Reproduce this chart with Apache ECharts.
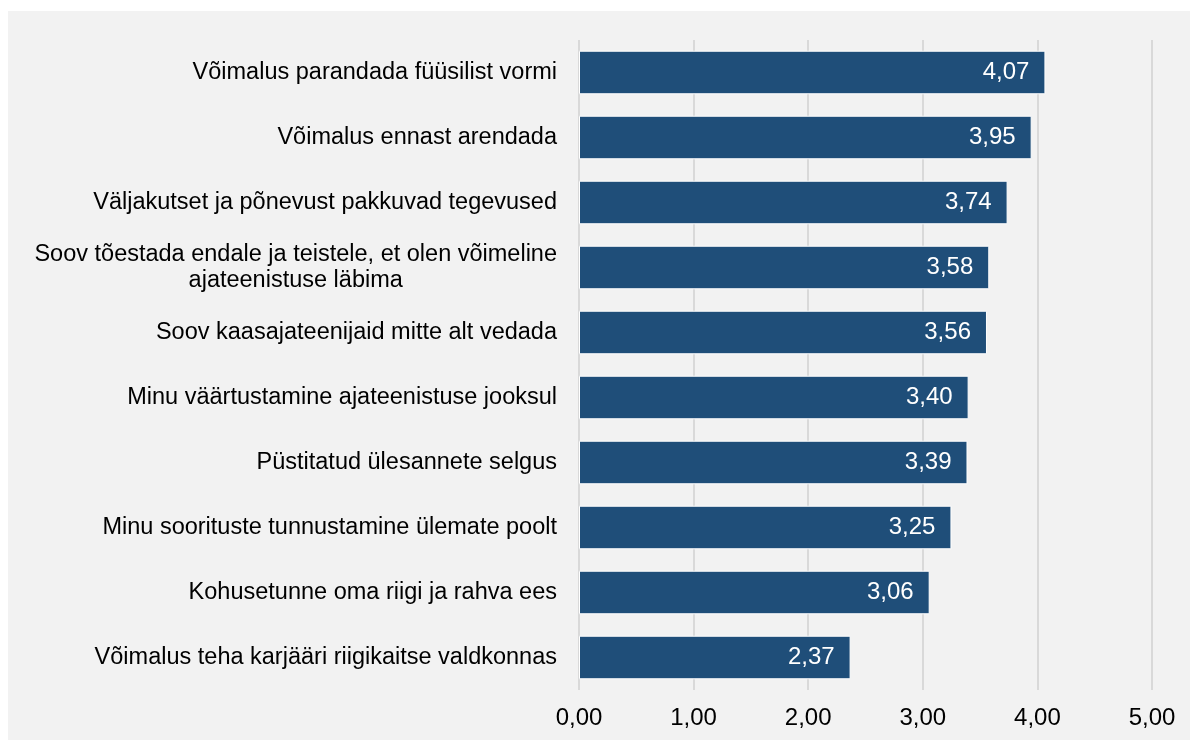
<!DOCTYPE html>
<html>
<head>
<meta charset="utf-8">
<script src="https://cdn.jsdelivr.net/npm/echarts@6/dist/echarts.min.js"></script>
<style>
  html, body { margin: 0; padding: 0; background: #fff; }
  #chart { position: absolute; left: 8px; top: 11px; width: 1182px; height: 729px; background: #f2f2f2; }
</style>
</head>
<body>
<div id="chart"></div>
<script>
// kategooriad ülevalt alla
const categories = [
  'Võimalus parandada füüsilist vormi',
  'Võimalus ennast arendada',
  'Väljakutset ja põnevust pakkuvad tegevused',
  'Soov tõestada endale ja teistele, et olen võimeline\najateenistuse läbima',
  'Soov kaasajateenijaid mitte alt vedada',
  'Minu väärtustamine ajateenistuse jooksul',
  'Püstitatud ülesannete selgus',
  'Minu soorituste tunnustamine ülemate poolt',
  'Kohusetunne oma riigi ja rahva ees',
  'Võimalus teha karjääri riigikaitse valdkonnas'
]
const values = [4.07, 3.95, 3.74, 3.58, 3.56, 3.40, 3.39, 3.25, 3.06, 2.37]

const fmt = v => v.toFixed(2).replace('.', ',')

const myChart = echarts.init(document.getElementById('chart'))

const option = {
  animation: false,
  grid: { left: 571, right: 38, top: 29, bottom: 50 },
  xAxis: {
    type: 'value',
    min: 0,
    max: 5,
    interval: 1,
    axisLine: { show: false },
    axisTick: { show: false },
    splitLine: { lineStyle: { color: '#d9d9d9', width: 2 } },
    axisLabel: {
      margin: 16,
      color: '#000',
      fontSize: 24,
      fontFamily: 'Liberation Sans, Arial',
      formatter: fmt
    }
  },
  yAxis: {
    type: 'category',
    inverse: true,
    data: categories,
    axisLine: { show: false },
    axisTick: { show: false },
    axisLabel: {
      margin: 22,
      color: '#000',
      fontSize: 23.5,
      lineHeight: 26,
      align: 'right',
      fontFamily: 'Liberation Sans, Arial',
      // mitmerealine silt: read keskele joondatud
      formatter: v => v.split('\n').map(s => '{c|' + s + '}').join('\n'),
      rich: {
        c: {
          align: 'center',
          color: '#000',
          fontSize: 23.5,
          lineHeight: 26,
          fontFamily: 'Liberation Sans, Arial'
        }
      }
    }
  },
  series: [
    {
      type: 'bar',
      data: values,
      barCategoryGap: '33%',
      itemStyle: {
        color: '#1f4e79',
        borderColor: '#ffffff',
        borderWidth: 1
      },
      label: {
        show: true,
        position: 'insideRight',
        distance: 16,
        color: '#fff',
        fontSize: 24,
        fontFamily: 'Liberation Sans, Arial',
        formatter: p => fmt(p.value)
      }
    }
  ]
}

myChart.setOption(option)
</script>
</body>
</html>
